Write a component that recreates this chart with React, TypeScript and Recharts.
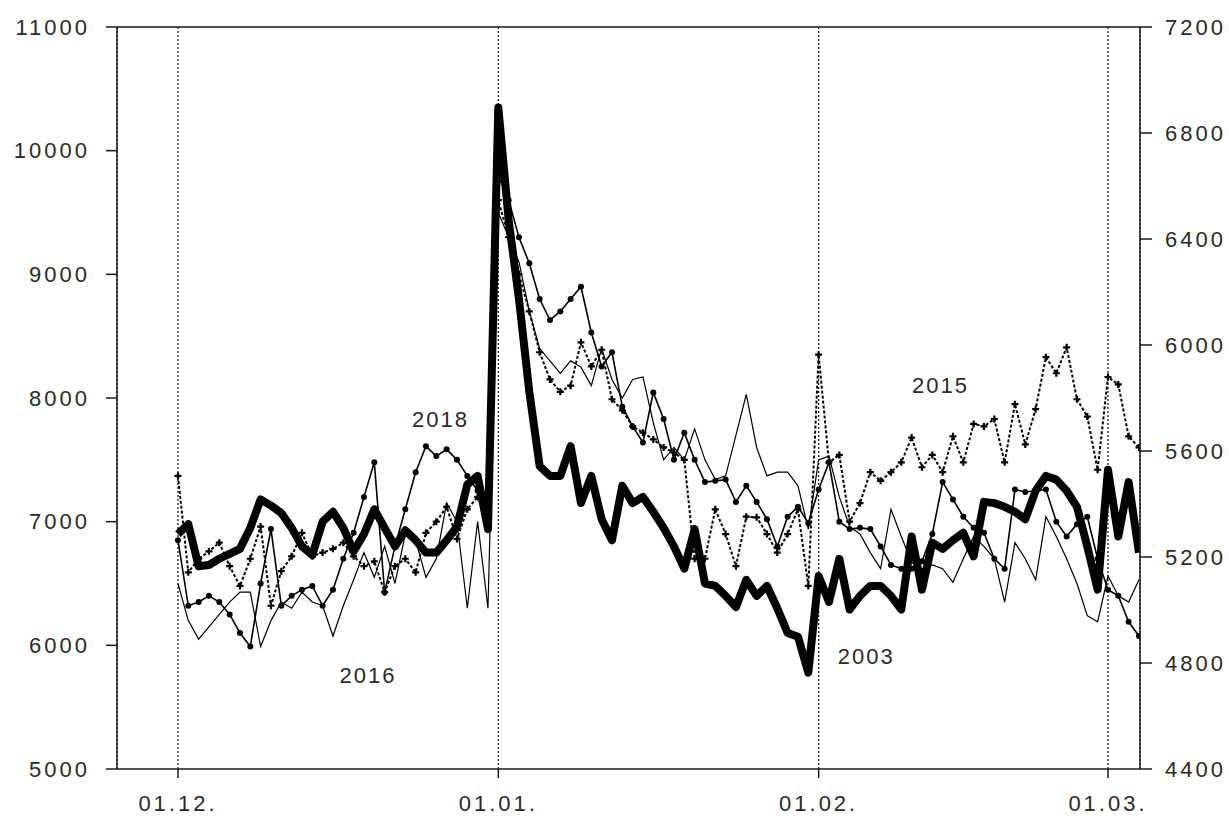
import React from "react"
import { LineChart, Line, XAxis, YAxis, CartesianGrid, ReferenceLine, ReferenceDot } from "recharts"

// day 0 = 01.12.
const days = [
  0, 1, 2, 3, 4, 5, 6, 7, 8, 9, 10, 11, 12, 13, 14, 15, 16, 17, 18, 19, 20, 21, 22, 23, 24, 25, 26, 27, 28, 29, 30,
  31, 32, 33, 34, 35, 36, 37, 38, 39, 40, 41, 42, 43, 44, 45, 46, 47, 48, 49, 50, 51, 52, 53, 54, 55, 56, 57, 58, 59, 60, 61,
  62, 63, 64, 65, 66, 67, 68, 69, 70, 71, 72, 73, 74, 75, 76, 77, 78, 79, 80, 81, 82, 83, 84, 85, 86, 87, 88, 89, 90, 91, 92, 93,
]
const tickDays = [0, 31, 62, 90]
const tickLabels = ["01.12.", "01.01.", "01.02.", "01.03."]
const leftTicks = [5000, 6000, 7000, 8000, 9000, 10000, 11000]
const rightTicks = [4400, 4800, 5200, 5600, 6000, 6400, 6800, 7200]

const y2003 = [
  6900, 6980, 6640, 6650, 6700, 6740, 6780, 6950, 7180, 7130, 7070, 6950, 6800, 6730, 7000, 7080, 6950, 6760, 6900, 7100,
  6950, 6800, 6930, 6850, 6750, 6750, 6850, 6960, 7300, 7370, 6940,
  10350, 9440, 8800, 8050, 7450, 7370, 7370, 7610, 7150, 7370, 7020, 6850, 7290, 7150, 7200, 7080, 6950, 6800, 6620, 6940,
  6500, 6480, 6400, 6310, 6530, 6400, 6480, 6300, 6100, 6070, 5780,
  6560, 6350, 6700, 6290, 6400, 6480, 6480, 6400, 6290, 6880, 6450, 6830, 6780, 6850, 6910, 6720, 7160, 7150, 7120, 7080,
  7020, 7250, 7370, 7340, 7250, 7120, 6800, 6450, 7420, 6880, 7320, 6750,
]
const y2015 = [
  7370, 6590, 6700, 6760, 6830, 6640, 6480, 6700, 6960, 6320, 6600, 6720, 6910, 6720, 6750, 6780, 6830, 6720, 6640, 6680,
  6430, 6640, 6700, 6590, 6910, 7000, 7120, 6860, 7100, 7200, 7160,
  9600, 9300, 9000, 8700, 8370, 8150, 8050, 8100, 8450, 8255, 8390, 7990, 7900, 7770, 7720, 7665, 7600, 7560, 7500, 6700,
  6700, 7100, 6900, 6640, 7040, 7035, 6900, 6750, 6900, 7100, 6480,
  8350, 7480, 7540, 7000, 7150, 7400, 7330, 7400, 7480, 7680, 7440, 7540, 7400, 7690, 7480, 7790, 7770, 7830, 7480, 7950,
  7625, 7910, 8330, 8200, 8410, 7990, 7850, 7420, 8170, 8110, 7690, 7600,
]
const y2016 = [
  6500, 6200, 6050, 6150, 6250, 6350, 6430, 6430, 5990, 6200, 6350, 6300, 6430, 6350, 6320, 6075, 6320, 6530, 6750, 6550,
  6800, 6500, 6900, 6850, 6550, 6700, 7150, 7000, 6300, 7000, 6300,
  9500, 9300, 9100, 8700, 8400, 8300, 8200, 8300, 8250, 8100, 8400, 8150, 8000, 8150, 8170, 7800, 7500, 7600, 7500, 7750,
  7500, 7340, 7370, 7700, 8030, 7600, 7370, 7400, 7400, 7290, 6940,
  7500, 7530, 7200, 6960, 6900, 6750, 6620, 7100, 6880, 6670, 6620, 6650, 6620, 6510, 6700, 6880, 6800, 6700, 6350, 6830,
  6700, 6530, 7040, 6880, 6700, 6500, 6240, 6190, 6560, 6400, 6350, 6530,
]
const y2018 = [
  6850, 6320, 6350, 6400, 6350, 6250, 6100, 5990, 6500, 6940, 6320, 6400, 6450, 6480, 6320, 6450, 6700, 6910, 7200, 7480,
  6430, 6800, 7100, 7400, 7610, 7530, 7585, 7500, 7370, 7250, 7200,
  9800, 9600, 9300, 9090, 8800, 8630, 8700, 8800, 8900, 8530, 8255, 8370, 7930, 7770, 7640, 8045, 7830, 7500, 7720, 7500,
  7320, 7330, 7340, 7160, 7290, 7160, 7020, 6800, 7040, 7120, 6990,
  7260, 7480, 7000, 6940, 6950, 6940, 6800, 6650, 6620, 6620, 6680, 6900, 7320, 7180, 7040, 6950, 6910, 6700, 6620, 7260,
  7240, 7250, 7260, 7000, 6880, 6980, 7040, 6700, 6450, 6400, 6190, 6075,
]

const labelNames = ["2018", "2016", "2003", "2015"]
const labelDays = [25.4, 18.4, 66.6, 73.8]
const labelValues = [7830, 5760, 5915, 8100]

const data = days.map((d, i) => ({ day: d, s2003: y2003[i], s2015: y2015[i], s2016: y2016[i], s2018: y2018[i] }))

const font = '"Liberation Sans", Arial, sans-serif'
const tickStyle = { fontSize: 22, fill: "#2a2a2a", fontFamily: font, letterSpacing: 3 }
const axisLine = { stroke: "#1a1a1a", strokeWidth: 1.5 }

const PlusDot = (props: any) => {
  const { cx, cy, index } = props
  if (cx == null || cy == null) return <g key={index} />
  return <path key={index} d={`M${cx - 3.5},${cy}h7M${cx},${cy - 3.5}v7`} stroke="#000" strokeWidth={2.2} fill="none" />
}

const RoundDot = (props: any) => {
  const { cx, cy, index } = props
  if (cx == null || cy == null) return <g key={index} />
  return <circle key={index} cx={cx} cy={cy} r={3} fill="#000" />
}

export default function App() {
  return (
    <div style={{ width: 1229, height: 816, background: "#fff" }}>
      <style>{"body{margin:0;background:#fff}"}</style>
      <LineChart width={1229} height={816} data={data} margin={{ top: 27, right: 29, bottom: 17, left: 57 }}>
        <CartesianGrid horizontal={false} stroke="#111" strokeDasharray="2 2" strokeWidth={1.2} />
        <XAxis
          dataKey="day"
          type="number"
          domain={[-5.9, 93.1]}
          allowDataOverflow
          ticks={tickDays}
          tickFormatter={(v: number) => tickLabels[tickDays.indexOf(v)] ?? ""}
          tick={tickStyle}
          tickSize={9}
          tickMargin={17}
          axisLine={axisLine}
          tickLine={axisLine}
        />
        <YAxis
          yAxisId="left"
          domain={[5000, 11000]}
          ticks={leftTicks}
          allowDataOverflow
          width={60}
          tick={tickStyle}
          tickSize={11}
          tickMargin={16}
          axisLine={axisLine}
          tickLine={axisLine}
        />
        <YAxis
          yAxisId="right"
          orientation="right"
          domain={[4400, 7200]}
          ticks={rightTicks}
          allowDataOverflow
          width={60}
          tick={tickStyle}
          tickSize={12}
          tickMargin={13}
          axisLine={axisLine}
          tickLine={axisLine}
        />
        <ReferenceLine yAxisId="left" y={11000} stroke="#1a1a1a" strokeWidth={1.5} />
        <Line yAxisId="left" dataKey="s2016" stroke="#000" strokeWidth={1.2} dot={false} isAnimationActive={false} />
        <Line yAxisId="left" dataKey="s2018" stroke="#000" strokeWidth={1.6} dot={RoundDot} isAnimationActive={false} />
        <Line yAxisId="left" dataKey="s2015" stroke="#000" strokeWidth={2} strokeDasharray="3 2" dot={PlusDot} isAnimationActive={false} />
        <Line yAxisId="left" dataKey="s2003" stroke="#000" strokeWidth={8} strokeLinejoin="round" dot={false} isAnimationActive={false} />
        {labelNames.map((name, i) => (
          <ReferenceDot
            key={name}
            yAxisId="left"
            x={labelDays[i]}
            y={labelValues[i]}
            r={0}
            fill="none"
            stroke="none"
            label={{ value: name, position: "center", fontSize: 22, fill: "#2a2a2a", fontFamily: font, letterSpacing: 2 }}
          />
        ))}
      </LineChart>
    </div>
  )
}
